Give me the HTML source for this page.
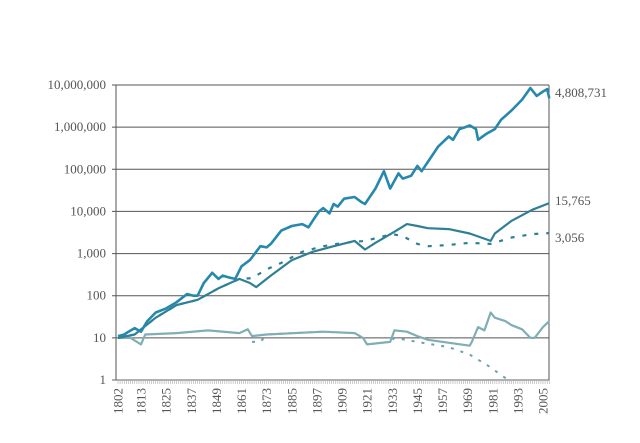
<!DOCTYPE html>
<html><head><meta charset="utf-8"><style>
body{margin:0;background:#fff}
svg text{font-family:"Liberation Serif",serif;fill:#555}
</style></head><body>
<svg width="640" height="438">
<g id="grid"></g>
<g id="series"></g>
<g id="xax"></g>
<g id="yax"></g>
<g id="ends"></g>
</svg>
<script>
const yTicks=[1,10,100,1000,10000,100000,1000000,10000000];
const yTickLabels=["1","10","100","1,000","10,000","100,000","1,000,000","10,000,000"];
const xTickYears=[1802,1813,1825,1837,1849,1861,1873,1885,1897,1909,1921,1933,1945,1957,1969,1981,1993,2005];
const stockYears=[1802,1805,1807,1810,1813,1816,1820,1825,1830,1835,1838,1840,1843,1847,1850,1852,1855,1858,1861,1865,1870,1873,1875,1880,1885,1890,1893,1895,1898,1900,1903,1905,1907,1910,1915,1918,1920,1925,1929,1932,1936,1938,1942,1945,1947,1950,1955,1960,1962,1965,1968,1970,1973,1974,1978,1982,1985,1990,1995,1999,2002,2005,2007,2008];
const stockVals=[11,12,14,17,14,25,40,50,70,110,100,100,200,350,250,300,270,250,500,700,1500,1400,1700,3500,4500,5000,4200,6000,10000,12000,9000,15000,13000,20000,22000,17000,15000,35000,90000,35000,80000,60000,70000,120000,90000,150000,350000,600000,500000,900000,1000000,1100000,900000,500000,700000,900000,1500000,2500000,4500000,8500000,5500000,7000000,8000000,4808731];
const bondYears=[1802,1810,1820,1830,1840,1850,1860,1865,1868,1875,1885,1895,1905,1915,1920,1925,1935,1940,1945,1950,1960,1970,1980,1982,1990,2000,2008];
const bondVals=[10,12,30,60,80,150,250,200,160,300,700,1100,1500,2000,1250,1800,3500,5000,4500,4000,3800,3000,2000,3000,6000,11000,15765];
const billYears=[1802,1810,1820,1830,1840,1850,1860,1866,1873,1880,1890,1900,1910,1920,1933,1938,1945,1950,1960,1970,1980,1990,2000,2008];
const billVals=[10,12,30,60,80,150,250,260,420,600,1100,1500,1800,2000,2900,2600,1700,1500,1600,1800,1700,2400,2900,3056];
const goldYears=[1802,1808,1813,1815,1830,1845,1860,1864,1866,1873,1900,1915,1919,1921,1932,1934,1940,1945,1950,1970,1971,1974,1977,1980,1982,1987,1990,1995,1999,2001,2005,2008];
const goldVals=[10,10,7,12,13,15,13,16,11,12,14,13,10,7,8,15,14,11,9,6.5,8,18,15,40,30,25,20,16,10,10,18,25];
const cpiYears=[1866,1870,1873,1900,1915,1919,1921,1932,1934,1945,1960,1970,1980,1985,1990];
const cpiVals=[8,8,12,14,13,10,7,8,10,8,6,4,2,1.3,0.9];
const L=116,R=549,T=85,B=380,x0=1802,x1=2008;
const xs=y=>118+(y-x0)*(543-118)/(2005-1802);
const ys=v=>B-Math.log10(v)*(B-T)/7;
const NS="http://www.w3.org/2000/svg";
function mk(tag,attrs,parent){const e=document.createElementNS(NS,tag);for(const k in attrs)e.setAttribute(k,attrs[k]);document.getElementById(parent).appendChild(e);return e;}
yTicks.forEach((v,i)=>{
 const ln=mk('line',{x1:L-4,x2:R,y1:ys(v),y2:ys(v),stroke:i==0?'#666':'#555','stroke-width':1},'grid');
 
 
 const t=mk('text',{x:106,y:ys(v)+4,'text-anchor':'end','font-size':13},'yax');
 t.textContent=yTickLabels[i];
 
 
});
mk('line',{x1:L,x2:L,y1:T,y2:B,stroke:'#555'},'grid');
mk('line',{x1:R,x2:R,y1:T,y2:B,stroke:'#555'},'grid');
for(let y=x0;y<=x1;y++){mk('line',{x1:xs(y),x2:xs(y),y1:B,y2:B+4,stroke:'#aaa','stroke-width':0.6},'xax');}
xTickYears.forEach(y=>{
 const t=mk('text',{transform:`translate(${xs(y)+4.5},388) rotate(-90)`,'text-anchor':'end','font-size':13},'xax');
 t.textContent=y;
 
 
});
function line(years,vals,color,w,dash,name){
 const d=years.map((y,i)=>(i?'L':'M')+xs(y).toFixed(1)+','+Math.min(ys(vals[i]),B+8).toFixed(1)).join('');
 const p=mk('path',{d,fill:'none',stroke:color,'stroke-width':w,'stroke-linejoin':'round'},'series');
 if(dash)p.setAttribute('stroke-dasharray',dash);
 
 
}
line(cpiYears,cpiVals,'#6aa3ad',2,'3,7','cpi-line');
line(goldYears,goldVals,'#80aeb5',2.2,null,'gold-line');
line(billYears,billVals,'#2f7f95',2.2,'4,8','bills-line');
line(bondYears,bondVals,'#2f7f95',2.2,null,'bonds-line');
line(stockYears,stockVals,'#2788ad',2.6,null,'stocks-line');
[["4,808,731",93],["15,765",201],["3,056",238]].forEach(([s,y])=>{
 const t=mk('text',{x:555,y:y+4,'font-size':13},'ends');
 t.textContent=s;
 
 
});
</script>
</body></html>
